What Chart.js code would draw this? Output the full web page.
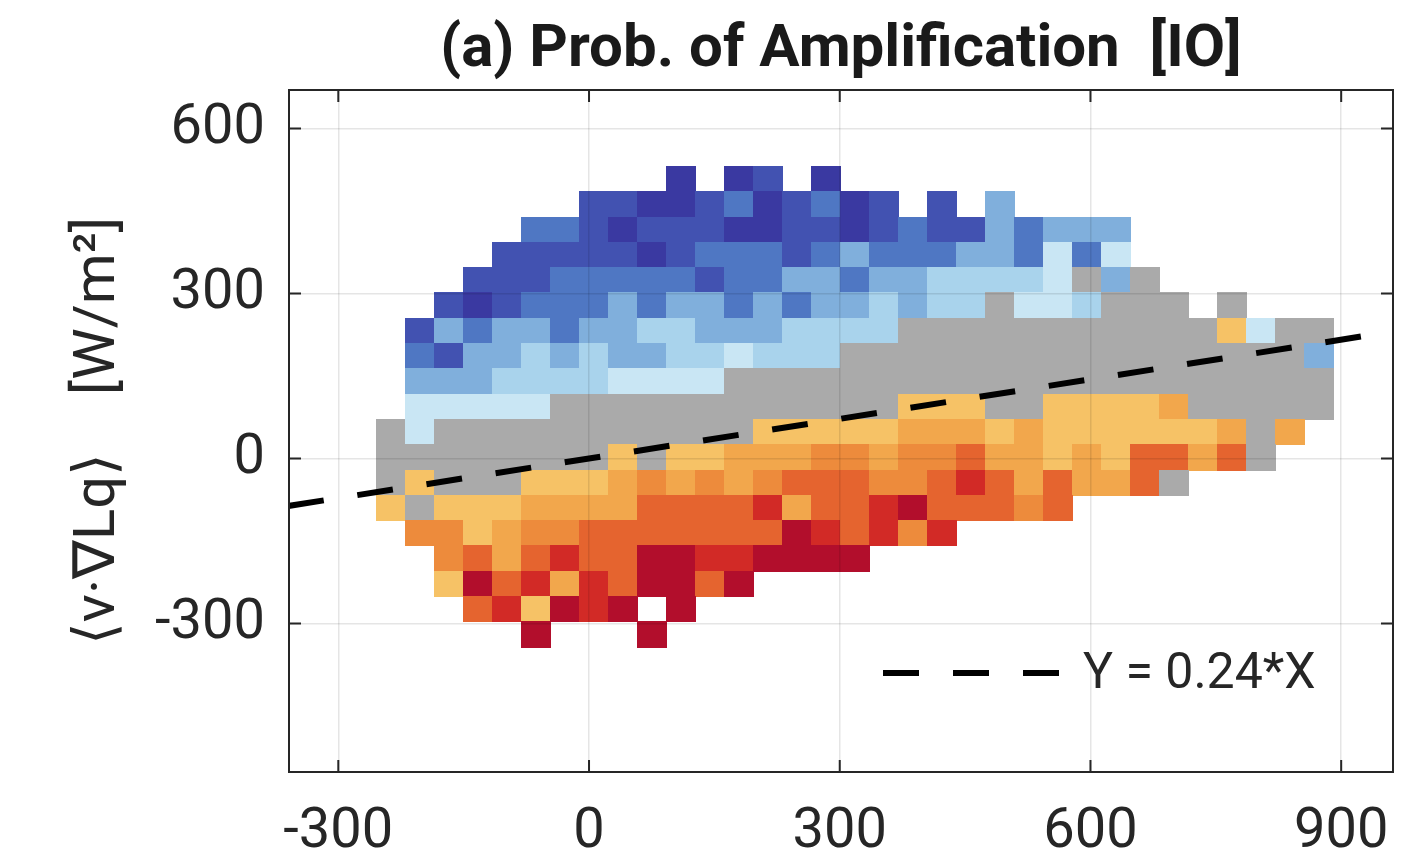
<!DOCTYPE html>
<html>
<head>
<meta charset="utf-8">
<script src="https://cdn.jsdelivr.net/npm/chart.js@4.4.1/dist/chart.umd.min.js"></script>
<style>
  html, body { margin: 0; padding: 0; background: #fff; }
  #wrap { width: 1425px; height: 862px; }
</style>
</head>
<body>
<div id="wrap"><canvas id="amp-chart" width="1425" height="862"></canvas></div>
<script>
// 2-D histogram bins, W/m^2
const xBinStart = -254;
const xBinWidth = 34.7;
const yBinTop = 531;
const yBinHeight = 46;

// probability class per bin, rows from the top, one char per x bin
// D d m l p v : blues (low prob), g : gray, y o O r R X : orange -> dark red (high prob)
const cellRows = [
  '..........D.Dd.D.................',
  '.......ddDDdmDdmDd.d.l...........',
  '.....mmdDdddDDddDdmddlmlll.......',
  '....dddddDdmmmdmlmmmllmvmv.......',
  '...dddmmmmmdmmllmllppppvglg......',
  '..dDdmmmlmllmlmllplppgvvpggg.g...',
  '.dlmllmllpplllppppgggggggggggyvgg',
  '.mdllplpllppvpppggggggggggggggggl',
  '.lllppppvvvvggggggggggggggggggggg',
  '.vvvvvggggggggggggyyyggyyyyoggggg',
  'gvgggggggggggyyyyyoooyoyyyyyyogo.',
  'ggggggggygyyoooOOoOOrooyoyrrorg..',
  'gygggyyyoOoOoOrrrOOrRroroorg.....',
  'ygyyyoooorrrrRorrRXrrrOr.........',
  '.OOyoOOrrrrrrrXRrROR.............',
  '..OrorRrrXXRRXXXX................',
  '..yXrRoRrXXrX....................',
  '...rRyXRX.X......................',
  '.....X...X.......................'
];

const classKeys = ['D', 'd', 'm', 'l', 'p', 'v', 'g', 'y', 'o', 'O', 'r', 'R', 'X'];
const classColors = ['#3a39a1', '#4252b1', '#4f77c3', '#80afdc', '#a9d3ec', '#c9e6f4', '#aaaaaa',
  '#f6c266', '#f2a74c', '#ed8b3c', '#e5642f', '#d22a26', '#b20e2c'];

const xTicks = [-300, 0, 300, 600, 900];
const yTicks = [-300, 0, 300, 600];

// fitted line Y = 0.24*X, end points
const fitLabel = 'Y = 0.24*X';
const fitX = [-360, 962];
const fitY = [-86.4, 230.9];

const FONT = 'Roboto';
const INK = '#262626';

const heatmap = {
  id: 'heatmap',
  beforeDatasetsDraw(chart) {
    const { ctx, scales: { x, y } } = chart;
    ctx.save();
    cellRows.forEach((row, r) => {
      const yTop = y.getPixelForValue(yBinTop - r * yBinHeight);
      const yBot = y.getPixelForValue(yBinTop - (r + 1) * yBinHeight);
      [...row].forEach((ch, c) => {
        const k = classKeys.indexOf(ch);
        if (k < 0) return;
        const x0 = x.getPixelForValue(xBinStart + c * xBinWidth);
        const x1 = x.getPixelForValue(xBinStart + (c + 1) * xBinWidth);
        ctx.fillStyle = classColors[k];
        ctx.fillRect(Math.floor(x0), Math.floor(yTop), Math.ceil(x1) - Math.floor(x0), Math.ceil(yBot) - Math.floor(yTop));
      });
    });
    ctx.restore();
  }
};

// box with inward ticks on all four sides, plus the legend inside the axes
const frame = {
  id: 'frame',
  afterDraw(chart) {
    const { ctx, chartArea: a, scales: { x, y } } = chart;
    const tl = 12;
    ctx.save();
    ctx.strokeStyle = INK;
    ctx.lineWidth = 2;
    ctx.beginPath();
    xTicks.forEach(v => {
      const px = x.getPixelForValue(v);
      ctx.moveTo(px, a.bottom); ctx.lineTo(px, a.bottom - tl);
      ctx.moveTo(px, a.top); ctx.lineTo(px, a.top + tl);
    });
    yTicks.forEach(v => {
      const py = y.getPixelForValue(v);
      ctx.moveTo(a.left, py); ctx.lineTo(a.left + tl, py);
      ctx.moveTo(a.right, py); ctx.lineTo(a.right - tl, py);
    });
    ctx.stroke();
    ctx.strokeRect(a.left, a.top, a.right - a.left, a.bottom - a.top);

    const ds = chart.data.datasets[0];
    const lx = a.right - 510;
    const ly = a.bottom - 99;
    ctx.strokeStyle = ds.borderColor;
    ctx.lineWidth = ds.borderWidth;
    ctx.setLineDash(ds.borderDash);
    ctx.beginPath();
    ctx.moveTo(lx, ly);
    ctx.lineTo(lx + 176, ly);
    ctx.stroke();
    ctx.setLineDash([]);
    ctx.fillStyle = INK;
    ctx.font = `50px ${FONT}`;
    ctx.textBaseline = 'middle';
    ctx.fillText(ds.label, lx + 200, ly + 2);
    ctx.restore();
  }
};

const gridStyle = { color: 'rgba(0,0,0,0.10)', lineWidth: 1.5, drawTicks: false, z: 1 };

new Chart(document.getElementById('amp-chart'), {
  type: 'scatter',
  data: {
    datasets: [{
      type: 'line',
      label: fitLabel,
      data: fitX.map((v, i) => ({ x: v, y: fitY[i] })),
      borderColor: '#000',
      borderWidth: 6,
      borderDash: [36, 34],
      borderCapStyle: 'butt',
      pointRadius: 0,
      fill: false
    }]
  },
  options: {
    responsive: false,
    animation: false,
    layout: { padding: { left: 0, right: 32, top: 0, bottom: 0 } },
    plugins: {
      legend: { display: false },
      tooltip: { enabled: false },
      title: {
        display: true,
        fullSize: false,
        text: '(a) Prob. of Amplification  [IO]',
        color: '#1a1a1a',
        font: { family: FONT, size: 60, weight: 'bold' },
        padding: { top: 15, bottom: 3 }
      }
    },
    scales: {
      x: {
        type: 'linear',
        min: -359,
        max: 962,
        afterBuildTicks: s => { s.ticks = xTicks.map(v => ({ value: v })); },
        afterFit: s => { s.height = 90; },
        grid: gridStyle,
        border: { display: false },
        ticks: { font: { family: FONT, size: 56 }, color: INK, padding: 27, maxRotation: 0 }
      },
      y: {
        type: 'linear',
        min: -570,
        max: 670,
        afterBuildTicks: s => { s.ticks = yTicks.map(v => ({ value: v })); },
        afterFit: s => { s.width = 289; },
        grid: gridStyle,
        border: { display: false },
        ticks: { font: { family: FONT, size: 56 }, color: INK, padding: 24 },
        title: {
          display: true,
          text: '\u27e8v\u00b7\u2207Lq\u27e9    [W/m\u00b2]',
          color: INK,
          font: { family: FONT, size: 58 },
          padding: { top: 65, bottom: 0 }
        }
      }
    }
  },
  plugins: [heatmap, frame]
});
</script>
</body>
</html>
